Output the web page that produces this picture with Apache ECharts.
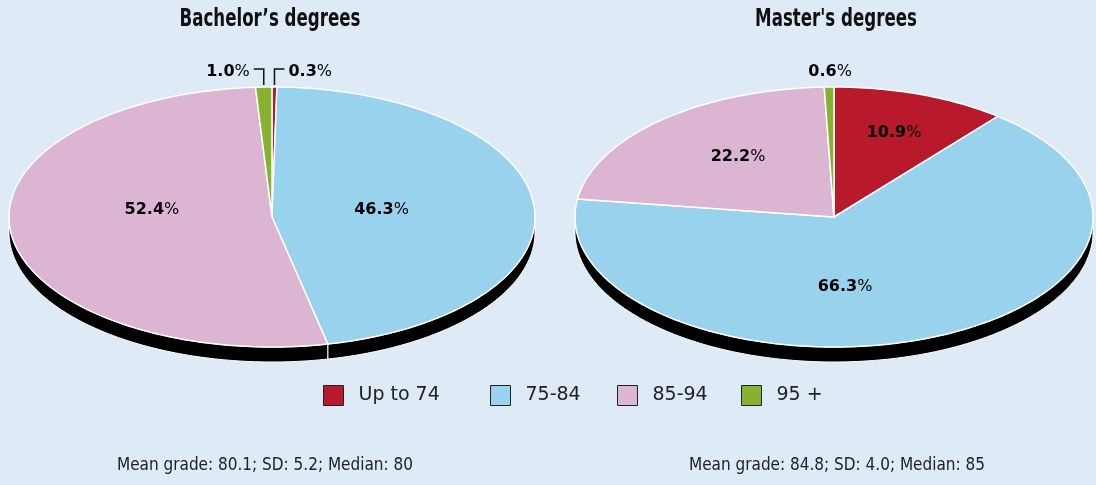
<!DOCTYPE html>
<html><head><meta charset="utf-8">
<script src="https://cdn.jsdelivr.net/npm/echarts@6/dist/echarts.min.js"></script>
<style>html,body{margin:0;padding:0;background:#deeaf6}#c{width:1096px;height:485px}</style>
</head><body><div id="c"></div>
<script>
// ---- data ----
const categories = ['Up to 74', '75-84', '85-94', '95 +'];
const pieTitles = ['Bachelor\u2019s degrees', "Master's degrees"];
const bachelorShares = [0.3, 46.3, 52.4, 1.0];
const masterShares = [10.9, 66.3, 22.2, 0.6];
const footnotes = ['Mean grade: 80.1; SD: 5.2; Median: 80', 'Mean grade: 84.8; SD: 4.0; Median: 85'];
const shares = [bachelorShares, masterShares];

// ---- style ----
const colors = ['#b8192b', '#98d2ec', '#dcb5d3', '#86b22f'];
const legendLefts = [323, 490, 617, 741];
const pies = [
  { cx: 272, cy: 217, rx: 263, ry: 130, depth: 15,
    labels: [{ top: 'right' }, { r: 0.42, dt: -1.8 }, { r: 0.46, dt: 14.8 }, { top: 'left' }] },
  { cx: 834, cy: 217, rx: 259, ry: 130, depth: 15,
    labels: [{ r: 0.69, dt: 0 }, { r: 0.54, dt: 16.9 }, { r: 0.59, dt: 3.2 }, { top: 'plain' }] }
];
const labelRich = {
  b: { fontFamily: 'DejaVu Sans', fontWeight: 'bold', fontSize: 16, color: '#111' },
  p: { fontFamily: 'DejaVu Sans', fontWeight: 'normal', fontSize: 16, color: '#111' }
};

function pt(g, th, r, dy) {
  return [g.cx + r * g.rx * Math.sin(th), g.cy - r * g.ry * Math.cos(th) + (dy || 0)];
}
function arc(g, a, b, dy) {
  const pts = [];
  const n = Math.max(2, Math.ceil((b - a) / (Math.PI / 180)) + 1);
  for (let i = 0; i < n; i++) pts.push(pt(g, a + (b - a) * i / (n - 1), 1, dy));
  return pts;
}

function makeRender(k) {
  return function (params, api) {
    const p = params.dataIndex;
    const g = pies[p];
    const vals = shares[p];
    const total = vals.reduce((s, v) => s + v, 0);
    let before = 0;
    for (let i = 0; i < k; i++) before += vals[i];
    const v = api.value(0);
    const a = before / total * Math.PI * 2;
    const b = (before + v) / total * Math.PI * 2;
    const children = [];
    const sa = Math.max(a, Math.PI / 2), sb = Math.min(b, Math.PI * 1.5);
    if (sb > sa) {
      const topEdge = arc(g, sa, sb, 0);
      const botEdge = arc(g, sa, sb, g.depth).reverse();
      children.push({ type: 'polygon', shape: { points: topEdge.concat(botEdge) },
        style: { fill: '#000', stroke: '#ffffff', lineWidth: 1 } });
    }
    const face = [[g.cx, g.cy]].concat(arc(g, a, b, 0));
    children.push({ type: 'polygon', shape: { points: face },
      style: { fill: api.visual('color'), stroke: '#ffffff', lineWidth: 1.5, lineJoin: 'round' } });
    const L = g.labels[k];
    const txt = '{b|' + v.toFixed(1) + '}{p|%}';
    const mid = (a + b) / 2;
    if (L.top) {
      const edge = pt(g, mid, 1, 0);
      const yL = g.cy - g.ry - 18;
      if (L.top === 'plain') {
        children.push({ type: 'text', z2: 100, style: { text: txt, rich: labelRich, x: edge[0] + 1, y: yL + 3, align: 'center', verticalAlign: 'middle' } });
      } else {
        const dir = L.top === 'right' ? 1 : -1;
        children.push({ type: 'polyline', z2: 100, shape: { points: [[edge[0], edge[1] - 2], [edge[0], yL], [edge[0] + dir * 10, yL]] },
          style: { stroke: '#111', lineWidth: 1.5, fill: null } });
        children.push({ type: 'text', z2: 100, style: { text: txt, rich: labelRich, x: edge[0] + dir * 14, y: yL + 3,
          align: dir > 0 ? 'left' : 'right', verticalAlign: 'middle' } });
      }
    } else {
      const lp = pt(g, mid + L.dt * Math.PI / 180, L.r, 0);
      children.push({ type: 'text', z2: 100, style: { text: txt, rich: labelRich, x: lp[0], y: lp[1], align: 'center', verticalAlign: 'middle' } });
    }
    return { type: 'group', children };
  };
}

const chart = echarts.init(document.getElementById('c'), null, { renderer: 'canvas' });
const graphics = [];
pieTitles.forEach((t, i) => graphics.push({ type: 'text', x: [270, 836][i], y: 19, scaleX: 0.74,
  style: { text: t, align: 'center', verticalAlign: 'middle', fill: '#111',
    font: 'bold 25px "DejaVu Sans Condensed", sans-serif' } }));
footnotes.forEach((t, i) => graphics.push({ type: 'text', x: [265, 837][i], y: 466,
  style: { text: t, align: 'center', verticalAlign: 'middle', fill: '#222',
    font: '17px "DejaVu Sans Condensed", "Liberation Sans Narrow", sans-serif' } }));

chart.setOption({
  backgroundColor: '#deeaf6',
  animation: false,
  legend: categories.map((c, i) => ({
    left: legendLefts[i], top: 385, padding: 0, itemWidth: 20, itemHeight: 20, icon: 'rect',
    itemStyle: { borderColor: '#222', borderWidth: 1 },
    textStyle: { fontFamily: 'DejaVu Sans', fontSize: 19, color: '#222', padding: [0, 0, 0, 10] },
    data: [c], selectedMode: false
  })),
  graphic: graphics,
  series: categories.map((name, k) => ({
    type: 'custom', name, coordinateSystem: 'none',
    itemStyle: { color: colors[k] },
    data: shares.map(s => s[k]),
    renderItem: makeRender(k)
  }))
});
</script></body></html>
